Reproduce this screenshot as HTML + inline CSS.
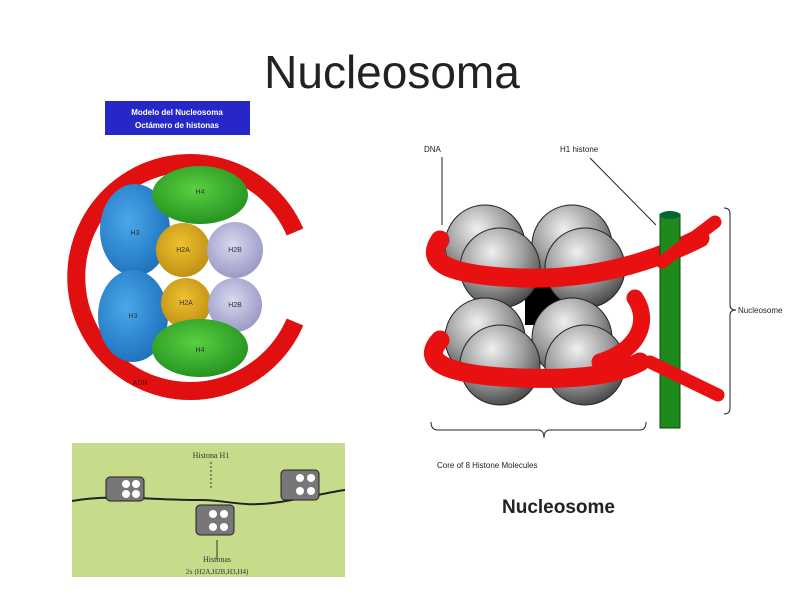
<!DOCTYPE html>
<html><head><meta charset="utf-8"><style>
html,body{margin:0;padding:0;background:#fff;width:800px;height:599px;overflow:hidden}
svg{display:block}
</style></head><body>
<svg width="800" height="599" viewBox="0 0 800 599" xmlns="http://www.w3.org/2000/svg" font-family="Liberation Sans, sans-serif">
<defs>
<radialGradient id="gs" cx="0.4" cy="0.3" r="0.75"><stop offset="0" stop-color="#f0f0f0"/><stop offset="0.55" stop-color="#9a9a9a"/><stop offset="1" stop-color="#404040"/></radialGradient>
<radialGradient id="bl" cx="0.4" cy="0.4" r="0.7"><stop offset="0" stop-color="#4aa8ea"/><stop offset="1" stop-color="#1a6cb8"/></radialGradient>
<radialGradient id="gr" cx="0.45" cy="0.4" r="0.7"><stop offset="0" stop-color="#5ad040"/><stop offset="1" stop-color="#1d8a1d"/></radialGradient>
<radialGradient id="ye" cx="0.45" cy="0.4" r="0.7"><stop offset="0" stop-color="#f0c030"/><stop offset="1" stop-color="#b88a10"/></radialGradient>
<radialGradient id="lv" cx="0.45" cy="0.4" r="0.7"><stop offset="0" stop-color="#d8d8f0"/><stop offset="1" stop-color="#9090c0"/></radialGradient>
</defs>
<text x="392" y="88" font-size="46" text-anchor="middle" fill="#222">Nucleosoma</text>

<!-- left diagram -->
<rect x="105" y="101" width="145" height="34" fill="#2727c8"/>
<text x="177" y="115" font-size="8" fill="#fff" text-anchor="middle" font-weight="bold">Modelo del Nucleosoma</text>
<text x="177" y="128" font-size="8" fill="#fff" text-anchor="middle" font-weight="bold">Octámero de histonas</text>
<path d="M 295 232 A 114 114 0 1 0 295 322" fill="none" stroke="#e01010" stroke-width="18"/>
<ellipse cx="135" cy="230" rx="35" ry="46" fill="url(#bl)"/>
<ellipse cx="133" cy="316" rx="35" ry="46" fill="url(#bl)"/>
<ellipse cx="200" cy="195" rx="48" ry="29" fill="url(#gr)"/>
<circle cx="183" cy="250" r="27" fill="url(#ye)"/>
<circle cx="186" cy="303" r="25" fill="url(#ye)"/>
<circle cx="235" cy="250" r="28" fill="url(#lv)"/>
<circle cx="235" cy="305" r="27" fill="url(#lv)"/>
<ellipse cx="200" cy="348" rx="48" ry="29" fill="url(#gr)"/>
<g font-size="7" fill="#333" text-anchor="middle">
<text x="135" y="235">H3</text><text x="133" y="318">H3</text>
<text x="200" y="194">H4</text><text x="200" y="352">H4</text>
<text x="183" y="252">H2A</text><text x="186" y="305">H2A</text>
<text x="235" y="252">H2B</text><text x="235" y="307">H2B</text>
<text x="140" y="385" fill="#600">ADN</text>
</g>

<!-- bottom-left -->
<rect x="72" y="443" width="273" height="134" fill="#c6dc8a"/>
<path d="M72 501 C110 494 150 500 200 500 C230 500 240 508 280 502 C310 497 330 492 345 490" fill="none" stroke="#222" stroke-width="2"/>
<g fill="#777" stroke="#222" stroke-width="1">
<rect x="106" y="477" width="38" height="24" rx="4"/>
<rect x="196" y="505" width="38" height="30" rx="4"/>
<rect x="281" y="470" width="38" height="30" rx="4"/>
</g>
<g fill="#fff">
<circle cx="126" cy="484" r="4"/><circle cx="136" cy="484" r="4"/><circle cx="126" cy="494" r="4"/><circle cx="136" cy="494" r="4"/>
<circle cx="213" cy="514" r="4"/><circle cx="224" cy="514" r="4"/><circle cx="213" cy="527" r="4"/><circle cx="224" cy="527" r="4"/>
<circle cx="300" cy="478" r="4"/><circle cx="311" cy="478" r="4"/><circle cx="300" cy="491" r="4"/><circle cx="311" cy="491" r="4"/>
</g>
<text x="211" y="458" font-size="8" fill="#333" text-anchor="middle" font-family="Liberation Serif, serif">Histona H1</text>
<line x1="211" y1="462" x2="211" y2="490" stroke="#333" stroke-dasharray="2,2"/>
<line x1="217" y1="560" x2="217" y2="540" stroke="#333"/>
<text x="217" y="562" font-size="8" fill="#333" text-anchor="middle" font-family="Liberation Serif, serif">Histonas</text>
<text x="217" y="574" font-size="7" fill="#333" text-anchor="middle" font-family="Liberation Serif, serif">2x (H2A,H2B,H3,H4)</text>

<!-- right diagram -->
<text x="424" y="152" font-size="8" fill="#222">DNA</text>
<text x="560" y="152" font-size="8" fill="#222">H1 histone</text>
<line x1="442" y1="157" x2="442" y2="225" stroke="#222"/>
<line x1="590" y1="158" x2="656" y2="225" stroke="#222"/>
<rect x="525" y="285" width="40" height="40" fill="#000"/>
<g stroke="#222" stroke-width="1" fill="url(#gs)">
<circle cx="485" cy="245" r="40"/><circle cx="572" cy="245" r="40"/>
<circle cx="500" cy="268" r="40"/><circle cx="585" cy="268" r="40"/>
<circle cx="485" cy="338" r="40"/><circle cx="572" cy="338" r="40"/>
<circle cx="500" cy="365" r="40"/><circle cx="585" cy="365" r="40"/>
</g>
<g fill="none" stroke="#e81010" stroke-linecap="round">
<path d="M440 240 C425 262 445 275 520 278 C580 280 640 268 700 238" stroke-width="19"/>
<path d="M635 298 C650 320 640 350 600 362" stroke-width="17"/>
<path d="M440 340 C420 362 445 375 520 378 C580 380 615 375 640 362" stroke-width="19"/>
</g>
<rect x="660" y="214" width="20" height="214" fill="#1e8a1e" stroke="#0a4a0a"/>
<ellipse cx="670" cy="215" rx="10" ry="4" fill="#063"/>
<g fill="none" stroke="#e81010" stroke-linecap="round">
<path d="M662 262 L715 222" stroke-width="13"/>
<path d="M650 362 L718 395" stroke-width="13"/>
</g>
<path d="M724 208 Q730 208 730 214 L730 305 Q730 310 736 310 Q730 310 730 315 L730 408 Q730 414 724 414" fill="none" stroke="#222"/>
<text x="738" y="313" font-size="8" fill="#222">Nucleosome</text>
<path d="M431 422 Q431 430 438 430 L538 430 Q544 430 544 438 Q544 430 550 430 L640 430 Q646 430 646 422" fill="none" stroke="#222"/>
<text x="437" y="468" font-size="8" fill="#222">Core of 8 Histone Molecules</text>
<text x="502" y="513" font-size="19" font-weight="bold" fill="#222">Nucleosome</text>
</svg>
</body></html>
